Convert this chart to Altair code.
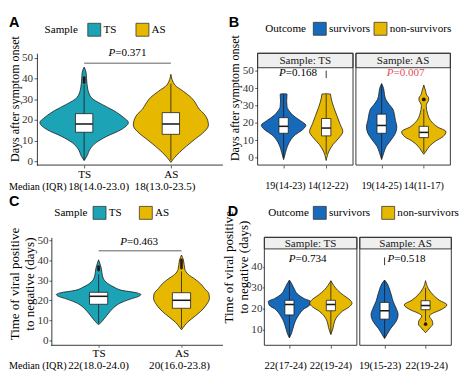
import altair as alt
import pandas as pd

FONT = "Liberation Serif"
SANS = "Liberation Sans"
TEAL = "#1CA3B5"
GOLD = "#E7B800"
BLUE = "#1769BA"
PRED = "#DC505A"
INK = "#1a1a1a"
STRIP = "#EFEFEF"

# ---------------- data ----------------
# violin outlines: value (days) and half-width (in x-scale units)
A_CATS = ["TS", "AS"]
A_TS_V = [0.3, 2.6, 5.8, 8.9, 12.0, 15.1, 18.7, 21.3, 24.5, 27.6, 30.7, 35.4, 40.0, 43.0, 45.5]
A_TS_W = [0, 0.034, 0.067, 0.135, 0.26, 0.42, 0.51, 0.45, 0.34, 0.20, 0.084, 0.039, 0.028, 0.022, 0]
A_AS_V = [-0.6, 1.9, 4.2, 7.3, 10.4, 13.6, 17.4, 19.8, 22.9, 25.2, 27.6, 30.7, 33.8, 36.9, 42.0]
A_AS_W = [0, 0.045, 0.098, 0.18, 0.27, 0.367, 0.433, 0.424, 0.382, 0.326, 0.292, 0.236, 0.143, 0.045, 0]
A_Q1 = [14.0, 13.0]
A_MED = [18.0, 18.0]
A_Q3 = [23.0, 23.5]
A_WLO = [0.5, 0.5]
A_WHI = [37.0, 37.5]
A_OUT_POS = [1, 1, 1, 1]
A_OUT_VAL = [38.0, 38.8, 39.6, 40.4]
A_MEDIANS = ["18(14.0-23.0)", "18(13.0-23.5)"]
A_MED_X = [1.167, 1.933]

B_CATS = ["survivors", "non-survivors"]
B_TS_S_V = [-1.2, 2.9, 6.6, 10.3, 13.1, 15.8, 18.6, 21.4, 24.2, 26.9, 29.5, 32.5, 36.6, 36.8]
B_TS_S_W = [0, 0.045, 0.091, 0.17, 0.273, 0.432, 0.523, 0.386, 0.227, 0.13, 0.08, 0.072, 0.08, 0]
B_TS_N_V = [-1.7, 3.8, 7.5, 11.2, 14.9, 19.6, 24.2, 28.8, 34.4, 36.6, 36.8]
B_TS_N_W = [0, 0.068, 0.16, 0.295, 0.39, 0.32, 0.25, 0.18, 0.114, 0.1, 0]
B_AS_S_V = [-1.2, 2.9, 6.6, 10.3, 14.0, 17.7, 21.4, 25.1, 27.9, 30.7, 33.4, 36.2, 39.9, 42.7]
B_AS_S_W = [0, 0.053, 0.114, 0.229, 0.327, 0.36, 0.327, 0.30, 0.267, 0.176, 0.10, 0.069, 0.046, 0]
B_AS_N_V = [1.9, 3.8, 6.6, 9.4, 12.1, 14.9, 17.7, 21.4, 25.1, 30.0, 31.5, 33.0, 34.5, 36.0, 38.1, 41.8]
B_AS_N_W = [0, 0.057, 0.137, 0.274, 0.457, 0.526, 0.32, 0.16, 0.091, 0.057, 0.08, 0.114, 0.114, 0.069, 0.046, 0]
B_TS_Q1 = [14.0, 12.5]
B_TS_MED = [18.0, 17.0]
B_TS_Q3 = [23.0, 22.5]
B_TS_WLO = [0.0, 2.0]
B_TS_WHI = [36.5, 36.5]
B_AS_Q1 = [14.0, 11.5]
B_AS_MED = [18.5, 14.5]
B_AS_Q3 = [25.0, 18.0]
B_AS_WLO = [0.0, 3.0]
B_AS_WHI = [42.0, 28.0]
B_AS_OUT_POS = [2]
B_AS_OUT_VAL = [33.5]
B_TS_MEDIANS = ["19(14-23)", "14(12-22)"]
B_AS_MEDIANS = ["19(14-25)", "14(11-17)"]
B_TS_MED_X = [1.045, 2.045]
B_AS_MED_X = [1.0, 2.0]

C_TS_V = [7.7, 9.7, 12.1, 14.5, 16.9, 18.5, 20.6, 22.1, 22.9, 23.7, 25.0, 26.6, 29.0, 32.2, 35.5, 37.5, 40.3]
C_TS_W = [0, 0.047, 0.093, 0.14, 0.198, 0.256, 0.384, 0.49, 0.51, 0.465, 0.28, 0.186, 0.093, 0.047, 0.035, 0.023, 0]
C_AS_V = [5.2, 6.5, 8.9, 11.3, 14.5, 17.7, 21.0, 23.4, 25.8, 28.2, 30.6, 33.0, 35.5, 40.3, 42.7]
C_AS_W = [0, 0.023, 0.07, 0.14, 0.233, 0.30, 0.337, 0.33, 0.28, 0.233, 0.163, 0.081, 0.041, 0.023, 0]
C_Q1 = [18.0, 16.0]
C_MED = [22.0, 20.0]
C_Q3 = [24.0, 23.8]
C_WLO = [8.5, 6.0]
C_WHI = [33.0, 34.5]
C_OUT_POS = [1, 1, 1, 2, 2, 2, 2, 2]
C_OUT_VAL = [35.2, 36.0, 36.8, 36.2, 37.2, 38.2, 39.2, 40.2]
C_MEDIANS = ["22(18.0-24.0)", "20(16.0-23.8)"]
C_MED_X = [1.0, 1.977]

D_TS_S_V = [6.0, 8.0, 10.3, 12.6, 14.9, 17.2, 19.5, 21.8, 23.4, 24.9, 27.2, 29.5, 31.8, 33.7]
D_TS_S_W = [0, 0.047, 0.081, 0.116, 0.163, 0.233, 0.326, 0.49, 0.51, 0.349, 0.186, 0.116, 0.058, 0]
D_TS_N_V = [7.6, 11.1, 14.1, 16.5, 18.8, 20.8, 22.6, 24.1, 26.5, 28.8, 31.1, 33.4]
D_TS_N_W = [0, 0.058, 0.093, 0.163, 0.28, 0.44, 0.51, 0.465, 0.30, 0.163, 0.07, 0]
D_AS_S_V = [5.7, 8.0, 10.3, 12.6, 14.9, 17.2, 20.3, 23.4, 26.5, 29.5, 31.8, 33.7]
D_AS_S_W = [0, 0.07, 0.141, 0.235, 0.306, 0.33, 0.28, 0.21, 0.165, 0.118, 0.07, 0]
D_AS_N_V = [8.5, 9.5, 11.1, 12.6, 14.1, 16.5, 17.7, 19.5, 21.8, 24.1, 26.5, 29.5, 33.4]
D_AS_N_W = [0, 0.047, 0.118, 0.176, 0.165, 0.094, 0.165, 0.376, 0.52, 0.33, 0.188, 0.07, 0]
D_TS_Q1 = [17.0, 19.0]
D_TS_MED = [22.0, 22.0]
D_TS_Q3 = [24.0, 24.0]
D_TS_WLO = [6.5, 8.0]
D_TS_WHI = [33.0, 33.0]
D_AS_Q1 = [15.0, 19.5]
D_AS_MED = [19.0, 21.5]
D_AS_Q3 = [23.0, 23.8]
D_AS_WLO = [6.0, 14.0]
D_AS_WHI = [33.5, 30.0]
D_AS_OUT_POS = [2]
D_AS_OUT_VAL = [12.6]
D_TS_MEDIANS = ["22(17-24)", "22(19-24)"]
D_AS_MEDIANS = ["19(15-23)", "22(19-24)"]
D_TS_MED_X = [0.91, 2.0]
D_AS_MED_X = [0.89, 2.03]

P_TEXT = {"A": "=0.371", "B_TS": "=0.168", "B_AS": "=0.007", "C": "=0.463", "D_TS": "=0.734", "D_AS": "=0.518"}
TITLE_ONSET = "Days after symptom onset"
TITLE_VIRAL = ["Time of viral positive", "to negative (days)"]


# ---------------- helpers ----------------
def vdf(parts):
    rows = []
    for grp, pos, vals, hws in parts:
        for v, h in zip(vals, hws):
            rows.append({"grp": grp, "value": v, "lo": pos - h, "hi": pos + h})
    return pd.DataFrame(rows)


def bdf(cats, q1, med, q3, wlo, whi, bw):
    pos = [1, 2]
    return pd.DataFrame({"grp": cats, "pos": pos,
                         "x0": [p - bw for p in pos], "x1": [p + bw for p in pos],
                         "q1": q1, "med": med, "q3": q3, "wlo": wlo, "whi": whi})


def odf(pos, vals):
    return pd.DataFrame({"pos": pos, "value": vals})


def label(text, x, y, **kw):
    return alt.Chart(pd.DataFrame({"t": [text]})).mark_text(**kw).encode(
        x=alt.value(x), y=alt.value(y), text="t:N")


def letter(t, x, y):
    return label(t, x, y, align="left", baseline="top", font=SANS, fontWeight="bold",
                 fontSize=15, color="black")


def ytitle(t, x, y, size):
    return label(t, x, y, align="center", baseline="middle", angle=270, font=FONT,
                 fontSize=size, color="black")


def pval(X, Y, px, py, rest, color="black"):
    d = pd.DataFrame({"x": [px], "y": [py], "p": ["P"], "r": [rest]})
    common = dict(baseline="alphabetic", font=FONT, fontSize=11.5, color=color, dx=-12.7)
    return [
        alt.Chart(d).mark_text(align="right", fontStyle="italic", **common).encode(
            x=X("x:Q"), y=Y("y:Q"), text="p:N"),
        alt.Chart(d).mark_text(align="left", **common).encode(
            x=X("x:Q"), y=Y("y:Q"), text="r:N"),
    ]


def medians(X, xpos, labels, ypix, size=11.5):
    d = pd.DataFrame({"x": xpos, "t": labels})
    return alt.Chart(d).mark_text(align="center", baseline="alphabetic", font=FONT,
                                  fontSize=size, color="black").encode(
        x=X("x:Q"), y=alt.value(ypix), text="t:N")


def frame(w, h):
    return alt.Chart(pd.DataFrame({"t": [0]})).mark_rect(
        filled=False, stroke="#333333", strokeWidth=1).encode(
        x=alt.value(0), x2=alt.value(w), y=alt.value(0), y2=alt.value(h))


def strip(text, w, sh):
    d = pd.DataFrame({"t": [text]})
    r = alt.Chart(d).mark_rect(fill=STRIP, stroke="#333333", strokeWidth=1).encode(
        x=alt.value(0), x2=alt.value(w), y=alt.value(0), y2=alt.value(sh))
    t = alt.Chart(d).mark_text(align="center", baseline="middle", font=FONT, fontSize=11.5,
                               color=INK).encode(x=alt.value(w / 2), y=alt.value(sh / 2 + 0.5),
                                                 text="t:N")
    return [r, t]


def hline(X, Y, x0, x1, y, color="#333333", width=0.8):
    d = pd.DataFrame({"x0": [x0], "x1": [x1], "y": [y]})
    return alt.Chart(d).mark_rule(color=color, strokeWidth=width).encode(
        x=X("x0:Q"), x2="x1:Q", y=Y("y:Q"))


def vline(X, Y, x, y0, y1):
    d = pd.DataFrame({"x": [x], "y0": [y0], "y1": [y1]})
    return alt.Chart(d).mark_rule(color="#333333", strokeWidth=1).encode(
        x=X("x:Q"), y=Y("y0:Q"), y2="y1:Q")


def legend(title, x, y, tpad, cpad):
    return alt.Legend(title=title, orient="none", legendX=x, legendY=y, direction="horizontal",
                      titleOrient="left", symbolType="square", symbolSize=180,
                      symbolStrokeColor="#333333", symbolStrokeWidth=0.8, symbolOpacity=1,
                      labelFont=FONT, labelFontSize=11.5, labelColor="black", labelOffset=2,
                      titleFont=FONT, titleFontSize=11.5, titleFontWeight="normal",
                      titleColor="black", titlePadding=tpad, columnPadding=cpad, padding=0)


def yaxis(values, tick, lpad, domain, offset=0):
    return alt.Axis(values=values, title=None, labelFont=FONT, labelFontSize=11.5,
                    labelColor="#333333", labelPadding=lpad, tickSize=tick,
                    tickColor="#333333", tickWidth=0.8, domain=domain, domainColor="black",
                    domainWidth=0.8, grid=False, offset=offset, zindex=1)


def xaxis_cat(labels, tick, lpad):
    return alt.Axis(values=[1, 2], labelExpr=f"datum.value == 1 ? '{labels[0]}' : '{labels[1]}'",
                    title=None, domain=False, grid=False, tickSize=tick, tickColor="#333333",
                    tickWidth=0.8, labelFont=FONT, labelFontSize=11.5, labelColor="black",
                    labelPadding=lpad, labelFlush=False, zindex=1)


XAXIS_TICKS = alt.Axis(values=[1, 2], labels=False, title=None, domain=False, grid=False,
                       tickSize=3, tickColor="#333333", tickWidth=0.8, zindex=1)


def panel(violin_df, box_df, out_df, cats, colors, xdom, ydom, w, h, yax, xax, leg,
          extra, dot=10, framed=False):
    xs = alt.Scale(domain=xdom, nice=False, zero=False)
    ys = alt.Scale(domain=ydom, nice=False, zero=False)

    def X(f):
        return alt.X(f, scale=xs, axis=xax)

    def Y(f):
        return alt.Y(f, scale=ys, axis=yax)

    layers = [
        alt.Chart(violin_df).mark_area(orient="horizontal", interpolate="monotone", stroke=INK,
                                       strokeWidth=0.8, opacity=1).encode(
            x=alt.X("lo:Q", scale=xs, axis=xax, stack=None), x2="hi:Q",
            y=Y("value:Q"),
            fill=alt.Fill("grp:N", scale=alt.Scale(domain=cats, range=colors), legend=leg),
            detail="grp:N"),
        alt.Chart(box_df).mark_rule(color=INK, strokeWidth=0.8).encode(
            x=X("pos:Q"), y=Y("wlo:Q"), y2="whi:Q"),
        alt.Chart(box_df).mark_rect(fill="white", stroke=INK, strokeWidth=0.8).encode(
            x=X("x0:Q"), x2="x1:Q", y=Y("q1:Q"), y2="q3:Q"),
        alt.Chart(box_df).mark_rule(color=INK, strokeWidth=1.6).encode(
            x=X("x0:Q"), x2="x1:Q", y=Y("med:Q")),
    ]
    if out_df is not None:
        layers.append(alt.Chart(out_df).mark_circle(color="#2a1616", size=dot, opacity=1).encode(
            x=X("pos:Q"), y=Y("value:Q")))
    layers += extra(X, Y)
    if framed:
        layers.append(frame(w, h))
    return alt.layer(*layers).properties(width=w, height=h)


Y50 = [0, 10, 20, 30, 40, 50]

# ---------------- panel A ----------------
A_XDOM = [0.4556, 2.9667]
A_YDOM = [-1.864, 52.19]
A = panel(
    vdf([("TS", 1, A_TS_V, A_TS_W), ("AS", 2, A_AS_V, A_AS_W)]),
    bdf(A_CATS, A_Q1, A_MED, A_Q3, A_WLO, A_WHI, 0.1),
    odf(A_OUT_POS, A_OUT_VAL), A_CATS, [TEAL, GOLD], A_XDOM, A_YDOM, 226, 116,
    yaxis(Y50, 3, 1.5, True),
    xaxis_cat(A_CATS, 3, 0.5), legend("Sample", 8, -32, 9, 18),
    lambda X, Y: [
        hline(X, Y, A_XDOM[0], 2.6, A_YDOM[0], color="black"),
        hline(X, Y, 1, 2, 47.4),
        *pval(X, Y, 1.5, 50.8, P_TEXT["A"]),
        medians(X, A_MED_X, A_MEDIANS, 142),
        label("Median (IQR)", -29, 142, align="left", baseline="alphabetic", font=FONT,
              fontSize=10.5, color="black"),
        ytitle(TITLE_ONSET, -22.75, 47.5, 12.5),
        letter("A", -29, -39),
    ], dot=9)

# ---------------- panel B ----------------
B_XDOM = [0.39, 2.63]
B_YDOM = [-4.33, 60.11]
B_TS = panel(
    vdf([("survivors", 1, B_TS_S_V, B_TS_S_W), ("non-survivors", 2, B_TS_N_V, B_TS_N_W)]),
    bdf(B_CATS, B_TS_Q1, B_TS_MED, B_TS_Q3, B_TS_WLO, B_TS_WHI, 0.11),
    None, B_CATS, [BLUE, GOLD], B_XDOM, B_YDOM, 99, 116,
    yaxis(Y50, 3, 1.5, False),
    XAXIS_TICKS, legend("Outcome", 8, -33, 6, 2),
    lambda X, Y: [
        *strip("Sample: TS", 99, 15),
        vline(X, Y, 2, 45.8, 50.1),
        *pval(X, Y, 1.34, 47.1, P_TEXT["B_TS"]),
        medians(X, B_TS_MED_X, B_TS_MEDIANS, 141, 10.5),
        ytitle(TITLE_ONSET, -23, 46.5, 12.5),
        letter("B", -30, -39),
    ], framed=True)
B_AS = panel(
    vdf([("survivors", 1, B_AS_S_V, B_AS_S_W), ("non-survivors", 2, B_AS_N_V, B_AS_N_W)]),
    bdf(B_CATS, B_AS_Q1, B_AS_MED, B_AS_Q3, B_AS_WLO, B_AS_WHI, 0.11),
    odf(B_AS_OUT_POS, B_AS_OUT_VAL), B_CATS, [BLUE, GOLD], B_XDOM, B_YDOM, 98, 116,
    None, XAXIS_TICKS, None,
    lambda X, Y: [
        *strip("Sample: AS", 98, 15),
        *pval(X, Y, 1.57, 46.8, P_TEXT["B_AS"], color=PRED),
        medians(X, B_AS_MED_X, B_AS_MEDIANS, 141, 10.5),
    ], dot=16, framed=True)

# ---------------- panel C ----------------
C_XDOM = [0.2558, 2.965]
C_YDOM = [-2.56, 51.55]
C = panel(
    vdf([("TS", 1, C_TS_V, C_TS_W), ("AS", 2, C_AS_V, C_AS_W)]),
    bdf(A_CATS, C_Q1, C_MED, C_Q3, C_WLO, C_WHI, 0.11),
    odf(C_OUT_POS, C_OUT_VAL), A_CATS, [TEAL, GOLD], C_XDOM, C_YDOM, 233, 112,
    yaxis(Y50, 2.5, 1, True, offset=-15),
    xaxis_cat(A_CATS, 2, 0.5), legend("Sample", 18, -33, 4.5, 16),
    lambda X, Y: [
        hline(X, Y, 0.4302, 2.5, C_YDOM[0], color="black"),
        hline(X, Y, 1, 2, 44.8),
        *pval(X, Y, 1.49, 47.9, P_TEXT["C"]),
        medians(X, C_MED_X, C_MEDIANS, 136.5),
        label("Median (IQR)", -29, 136.5, align="left", baseline="alphabetic", font=FONT,
              fontSize=10.5, color="black"),
        ytitle(TITLE_VIRAL[0], -22.25, 48.5, 13.5),
        ytitle(TITLE_VIRAL[1], -6.75, 48.5, 13.5),
        letter("C", -29, -45),
    ], dot=9)

# ---------------- panel D ----------------
D_XDOM = [0.395, 2.628]
D_YDOM = [2.49, 54.1]
D_TS = panel(
    vdf([("survivors", 1, D_TS_S_V, D_TS_S_W), ("non-survivors", 2, D_TS_N_V, D_TS_N_W)]),
    bdf(B_CATS, D_TS_Q1, D_TS_MED, D_TS_Q3, D_TS_WLO, D_TS_WHI, 0.11),
    None, B_CATS, [BLUE, GOLD], D_XDOM, D_YDOM, 96, 112,
    yaxis([10, 20, 30, 40], 2, 0.5, False),
    XAXIS_TICKS, legend("Outcome", 4, -33, 3, 10),
    lambda X, Y: [
        *strip("Sample: TS", 96, 12),
        *pval(X, Y, 1.44, 42.1, P_TEXT["D_TS"]),
        medians(X, D_TS_MED_X, D_TS_MEDIANS, 136.5, 11),
        ytitle(TITLE_VIRAL[0], -36.5, 31, 13.5),
        ytitle(TITLE_VIRAL[1], -21, 31, 13.5),
        letter("D", -38, -34),
    ], framed=True)
D_AS = panel(
    vdf([("survivors", 1, D_AS_S_V, D_AS_S_W), ("non-survivors", 2, D_AS_N_V, D_AS_N_W)]),
    bdf(B_CATS, D_AS_Q1, D_AS_MED, D_AS_Q3, D_AS_WLO, D_AS_WHI, 0.11),
    odf(D_AS_OUT_POS, D_AS_OUT_VAL), B_CATS, [BLUE, GOLD], D_XDOM, D_YDOM, 95, 112,
    None, XAXIS_TICKS, None,
    lambda X, Y: [
        *strip("Sample: AS", 95, 12),
        vline(X, Y, 1, 40.8, 44.5),
        *pval(X, Y, 1.536, 42.1, P_TEXT["D_AS"]),
        medians(X, D_AS_MED_X, D_AS_MEDIANS, 136.5, 11),
    ], dot=14, framed=True)

RES = dict(x="independent", y="independent", fill="independent")
row1 = alt.hconcat(A, B_TS, B_AS, spacing=3, bounds="flush").resolve_scale(**RES)
row2 = alt.hconcat(C, D_TS, D_AS, spacing=3, bounds="flush").resolve_scale(**RES)

chart = (
    alt.vconcat(row1, row2, spacing=0)
    .resolve_scale(**RES)
    .properties(padding=0, background="white")
    .configure_view(stroke="transparent")
    .configure_axis(grid=False, labelFont=FONT, titleFont=FONT)
    .configure_legend(labelFont=FONT, titleFont=FONT)
    .configure_text(font=FONT)
)

chart.save("out.html", embed_options={"renderer": "svg", "actions": False})
